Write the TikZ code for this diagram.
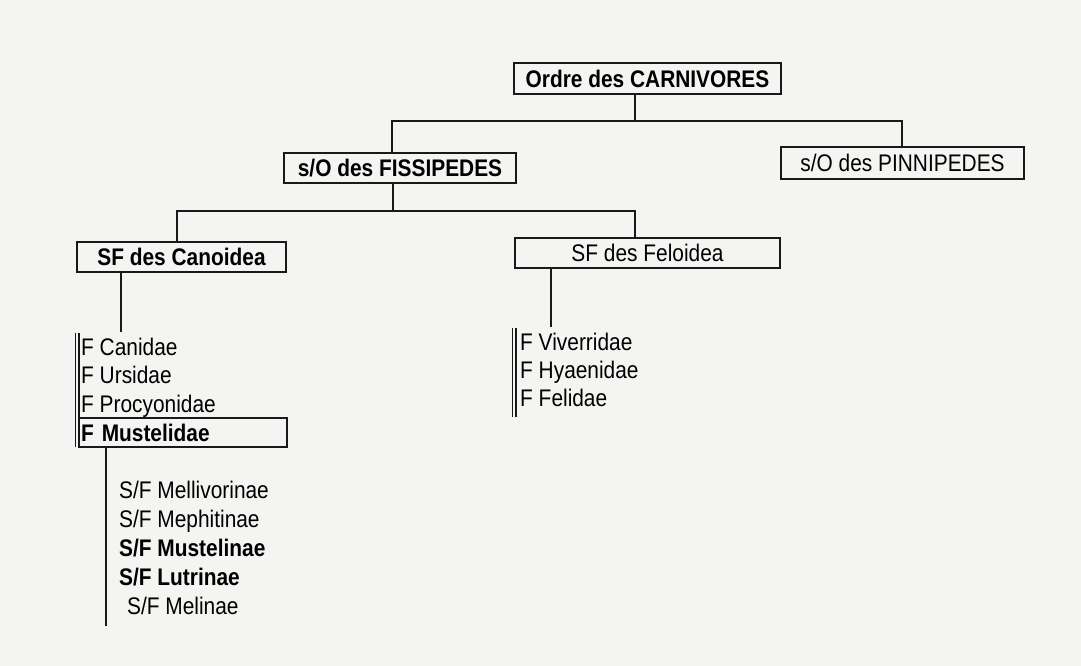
\documentclass[tikz,border=0pt]{standalone}
\usepackage{fontspec}
\setmainfont{Liberation Sans}[FakeStretch=0.87]
\definecolor{PaperGrey}{RGB}{244,244,242}
\colorlet{InkLine}{black!90}
\usetikzlibrary{calc}
\tikzset{
  taxbox/.style={draw=InkLine, line width=1.8pt, inner sep=0pt, font=\fontsize{24}{28}\selectfont},
  taxitem/.style={anchor=base west, inner sep=0pt, font=\fontsize{24}{28}\selectfont},
  taxlink/.style={draw=InkLine, line width=1.5pt},
  taxbar/.style={draw=InkLine, double=PaperGrey, double distance=1.6pt, line width=1.7pt}
}

\begin{document}
\begin{tikzpicture}[x=1pt, y=-1pt]

\fill [PaperGrey] (0,0) rectangle (1081,666);
\useasboundingbox (0,0) rectangle (1081,666);

% ordre and sous-ordres
\node [taxbox, minimum width=267pt, minimum height=31pt] (ordre) at (647.5,78.5) {\bfseries Ordre des CARNIVORES};
\node [taxbox, minimum width=232pt, minimum height=30pt] (fissi) at (400,168) {\bfseries s/O des FISSIPEDES};
\node [taxbox, minimum width=243pt, minimum height=32pt] (pinni) at (902.5,163) {s/O des PINNIPEDES};

\coordinate (jA) at (635,121);
\coordinate (jAl) at (392,121);
\coordinate (jAr) at (902,121);
\draw [taxlink] (jA |- ordre.south) -- (jA);
\draw [taxlink] (fissi.north -| jAl) -- (jAl) -- (jAr) -- (pinni.north -| jAr);

% super-familles
\node [taxbox, minimum width=209pt, minimum height=30pt] (cano) at (181.5,257) {\bfseries SF des Canoidea};
\node [taxbox, minimum width=265pt, minimum height=30pt] (felo) at (647.5,253) {SF des Feloidea};

\coordinate (jB) at (393,211);
\coordinate (jBl) at (177,211);
\coordinate (jBr) at (635,211);
\draw [taxlink] (jB |- fissi.south) -- (jB);
\draw [taxlink] (cano.north -| jBl) -- (jBl) -- (jBr) -- (felo.north -| jBr);

% familles
\coordinate (cEnd) at (121,332);
\draw [taxlink] (cano.south -| cEnd) -- (cEnd);
\draw [taxbar] (77,333) -- (77,447);

\node [taxitem] (canidae) at (81,355) {F Canidae};
\node [taxitem] (ursidae) at (81,383.5) {F Ursidae};
\node [taxitem] (procyo) at (81,412) {F Procyonidae};
\node [taxbox, minimum width=208pt, minimum height=29pt, text width=204pt, align=left, inner xsep=2pt] (must) at (183,432.5) {\bfseries F Mustelidae};

\coordinate (fEnd) at (551,327);
\draw [taxlink] (felo.south -| fEnd) -- (fEnd);
\draw [taxbar] (514,328) -- (514,417);

\node [taxitem] (viver) at (520,350) {F Viverridae};
\node [taxitem] (hyaen) at (520,378) {F Hyaenidae};
\node [taxitem] (felid) at (520,406) {F Felidae};

% sous-familles
\coordinate (mEnd) at (106,626);
\draw [taxlink] (must.south -| mEnd) -- (mEnd);

\node [taxitem] (melliv) at (119,498) {S/F Mellivorinae};
\node [taxitem] (mephit) at (119,527) {S/F Mephitinae};
\node [taxitem] (mustel) at (119,556) {\bfseries S/F Mustelinae};
\node [taxitem] (lutrin) at (119,585) {\bfseries S/F Lutrinae};
\node [taxitem] (melin) at (127,614) {S/F Melinae};

\end{tikzpicture}
\end{document}
